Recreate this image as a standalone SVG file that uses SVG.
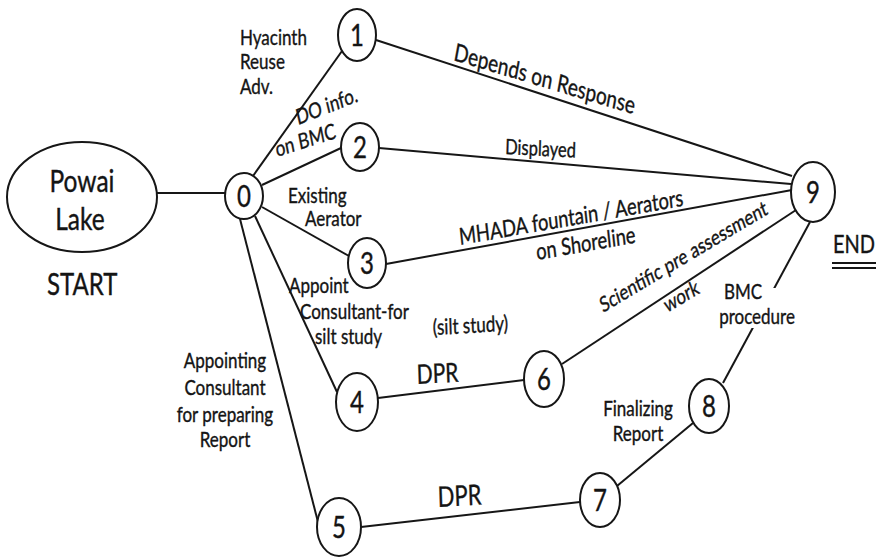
<svg xmlns="http://www.w3.org/2000/svg" width="876" height="557" viewBox="0 0 876 557">
<style>
.nd{fill:#fff;stroke:#161616;stroke-width:2}
.ed{stroke:#161616;stroke-width:2;fill:none}
text{font-family:Lato,"Liberation Sans",sans-serif;fill:#141414;stroke:#141414;stroke-width:0.3}
.dg{font-size:24px;text-anchor:middle}
.lb{font-size:17px}
.c{text-anchor:middle}
</style>
<rect width="876" height="557" fill="#fff"/>
<g id="connectors">
<line class="ed" x1="157" y1="193" x2="225" y2="193"/>
<line class="ed" x1="253" y1="176" x2="342" y2="51"/>
<line class="ed" x1="262" y1="185" x2="341" y2="148"/>
<line class="ed" x1="262" y1="207" x2="349" y2="256"/>
<line class="ed" x1="255" y1="216" x2="337" y2="392"/>
<line class="ed" x1="240" y1="219" x2="318" y2="522"/>
<line class="ed" x1="376" y1="40" x2="792" y2="176"/>
<line class="ed" x1="379" y1="148" x2="791" y2="184"/>
<line class="ed" x1="386" y1="264" x2="792" y2="190"/>
<line class="ed" x1="562" y1="364" x2="796" y2="210"/>
<line class="ed" x1="723" y1="383" x2="810" y2="222"/>
<line class="ed" x1="378" y1="398" x2="524" y2="380"/>
<line class="ed" x1="361" y1="527" x2="580" y2="502"/>
<line class="ed" x1="617" y1="486" x2="693" y2="423"/>
</g>
<g id="node-start">
<ellipse class="nd" cx="82" cy="197" rx="75" ry="55"/>
<text transform="translate(82,192) scale(1,1.28)" class="c" font-size="24.5">Powai</text>
<text transform="translate(80,230) scale(1,1.28)" class="c" font-size="24.5">Lake</text>
<text transform="translate(47,295) scale(1,1.28)" font-size="24">START</text>
</g>
<g id="node-0"><ellipse class="nd" cx="244" cy="196" rx="19" ry="23"/><text class="dg" transform="translate(244,207) scale(1,1.28)">0</text></g>
<g id="node-1"><ellipse class="nd" cx="357" cy="35" rx="19" ry="26"/><text class="dg" transform="translate(357,46) scale(1,1.28)">1</text></g>
<g id="node-2"><ellipse class="nd" cx="360" cy="147" rx="19" ry="24"/><text class="dg" transform="translate(360,158) scale(1,1.28)">2</text></g>
<g id="node-3"><ellipse class="nd" cx="367" cy="263" rx="19" ry="25"/><text class="dg" transform="translate(367,274) scale(1,1.28)">3</text></g>
<g id="node-4"><ellipse class="nd" cx="357" cy="402" rx="21" ry="29"/><text class="dg" transform="translate(357,413) scale(1,1.28)">4</text></g>
<g id="node-5"><ellipse class="nd" cx="339" cy="527" rx="22" ry="29"/><text class="dg" transform="translate(339,538) scale(1,1.28)">5</text></g>
<g id="node-6"><ellipse class="nd" cx="544" cy="379" rx="20" ry="28"/><text class="dg" transform="translate(544,390) scale(1,1.28)">6</text></g>
<g id="node-7"><ellipse class="nd" cx="600" cy="500" rx="20" ry="27"/><text class="dg" transform="translate(600,511) scale(1,1.28)">7</text></g>
<g id="node-8"><ellipse class="nd" cx="709" cy="406" rx="20" ry="27"/><text class="dg" transform="translate(709,417) scale(1,1.28)">8</text></g>
<g id="node-9"><ellipse class="nd" cx="813" cy="192" rx="22" ry="30"/><text class="dg" transform="translate(813,203) scale(1,1.28)">9</text></g>
<g id="end">
<text transform="translate(833,253) scale(1,1.28)" font-size="20">END</text>
<line class="ed" x1="832" y1="263" x2="876" y2="263"/>
<line class="ed" x1="832" y1="268" x2="876" y2="268"/>
</g>
<g id="labels">
<text class="lb" transform="translate(240,45) scale(1,1.28)"><tspan x="0" y="0">Hyacinth</tspan><tspan x="0" dy="19.1">Reuse</tspan><tspan x="0" dy="19.1">Adv.</tspan></text>
<text class="lb" transform="translate(298,125) scale(1,1.28) rotate(-17)">DO info.</text>
<text class="lb" transform="translate(277,157) scale(1,1.28) rotate(-14)">on BMC</text>
<text class="lb" transform="translate(288,203) scale(1,1.28)">Existing</text>
<text class="lb" transform="translate(305,226) scale(1,1.28)">Aerator</text>
<text transform="translate(453,60) scale(1,1.28) rotate(13.2)" font-size="19">Depends on Response</text>
<text transform="translate(505,154) scale(1,1.28) rotate(2.3)" font-size="16.5">Displayed</text>
<text transform="translate(460,245) scale(1,1.28) rotate(-7.8)" font-size="18.3">MHADA fountain / Aerators</text>
<text transform="translate(537,260) scale(1,1.28) rotate(-7.8)" font-size="18.3">on Shoreline</text>
<text transform="translate(603,313) scale(1,1.28) rotate(-25.1)" font-size="16.7">Scientific pre assessment</text>
<text transform="translate(667,313) scale(1,1.28) rotate(-25.1)" font-size="16.7">work</text>
<rect x="712" y="288" width="90" height="40" fill="#fff"/>
<text class="lb c" transform="translate(743,299) scale(1,1.28)">BMC</text>
<text class="lb c" transform="translate(757,324) scale(1,1.28)">procedure</text>
<text class="lb" transform="translate(433,335) scale(1,1.28) rotate(-2.5)">(silt study)</text>
<text transform="translate(417,384) scale(1,1.28) rotate(-2.5)" font-size="21">DPR</text>
<text transform="translate(438,507) scale(1,1.28) rotate(-2.5)" font-size="22">DPR</text>
<text class="lb c" transform="translate(638,416) scale(1,1.28)">Finalizing</text>
<text class="lb c" transform="translate(638,441) scale(1,1.28)">Report</text>
<text class="lb" transform="translate(289,293) scale(1,1.28)">Appoint</text>
<text class="lb" transform="translate(300,319) scale(1,1.28)">Consultant-for</text>
<text class="lb" transform="translate(315,344) scale(1,1.28)">silt study</text>
<text class="lb c" transform="translate(225,368) scale(1,1.28)"><tspan x="0" y="0">Appointing</tspan><tspan x="0" dy="21.1">Consultant</tspan><tspan x="0" dy="21.1">for preparing</tspan><tspan x="0" dy="19.5">Report</tspan></text>
</g>
</svg>
